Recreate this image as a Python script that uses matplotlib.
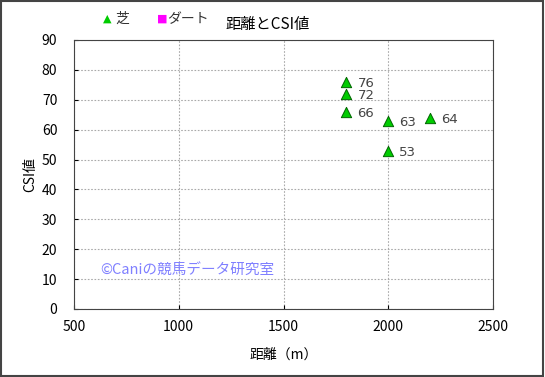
import matplotlib.pyplot as plt

plt.rcParams['font.family'] = ['Noto Sans CJK JP', 'DejaVu Sans']

# turf (芝) data
turf_dist = [1800, 1800, 1800, 2000, 2000, 2200]
turf_csi = [76, 72, 66, 63, 53, 64]

# dirt (ダート) data - none in this chart
dirt_dist = []
dirt_csi = []

fig = plt.figure(figsize=(5.45, 3.77), dpi=100)
ax = fig.add_axes([74 / 545, 1 - 309 / 377, 419 / 545, 269 / 377])

ax.scatter(turf_dist, turf_csi, marker='^', s=55, color='#00cc00',
           edgecolors='#006600', linewidths=0.7, zorder=3)
ax.scatter(dirt_dist, dirt_csi, marker='s', s=40, color='#ff00ff', zorder=3)
for x, y in zip(turf_dist, turf_csi):
    ax.annotate(str(y), (x, y), xytext=(8, -4), textcoords='offset points',
                fontsize=9.5, color='#444444', family=['DejaVu Sans'])

ax.set_xlim(500, 2500)
ax.set_ylim(0, 90)
ax.set_xticks(range(500, 2501, 500))
ax.set_yticks(range(0, 91, 10))
ax.grid(True, linestyle=(0, (1.5, 1.5)), color='#aaaaaa', linewidth=0.8)
ax.tick_params(direction='in', length=3, labelsize=10)
ax.tick_params(axis='x', pad=8)
ax.tick_params(axis='y', pad=12)
for s in ax.spines.values():
    s.set_color('#444444')

ax.set_xlabel('距離（m）', fontsize=10, labelpad=10)
ax.set_ylabel('CSI値', fontsize=10, labelpad=3)

fig.text(268 / 545, 1 - 24 / 377, '距離とCSI値', fontsize=11, ha='center', va='center')
fig.text(103 / 545, 1 - 19 / 377, '▲', fontsize=8, color='#00cc00', va='center',
         family=['DejaVu Sans'])
fig.text(115 / 545, 1 - 19 / 377, '芝', fontsize=10, color='#333333', va='center')
fig.text(157 / 545, 1 - 19 / 377, '■', fontsize=8, color='#ff00ff', va='center',
         family=['DejaVu Sans'])
fig.text(167 / 545, 1 - 19 / 377, 'ダート', fontsize=10, color='#333333', va='center')

fig.text(100 / 545, 1 - 271 / 377, '©Caniの競馬データ研究室',
         fontsize=10.5, color='#8080ff', va='center')

border = plt.Rectangle((0.002, 0.003), 0.995, 0.994, transform=fig.transFigure,
                       fill=False, edgecolor='#444444', linewidth=1.5)
fig.patches.append(border)

fig.savefig('out.png', dpi=100)
